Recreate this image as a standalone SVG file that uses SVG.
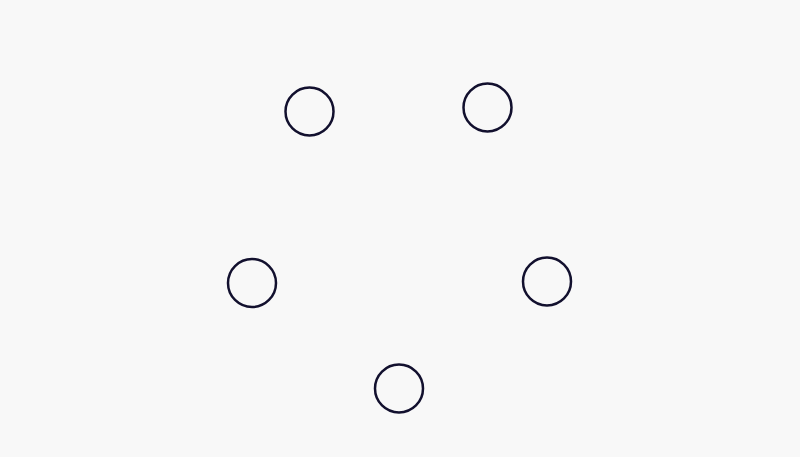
<svg xmlns="http://www.w3.org/2000/svg" width="800" height="457" viewBox="0 0 800 457">
<style>
.node{fill:none;stroke:#12102e;stroke-width:2.5}
</style>
<rect width="800" height="457" fill="#f8f8f8"/>
<g id="connectors"/>
<g id="n1"><circle class="node" cx="309.5" cy="111.5" r="24"/></g>
<g id="n2"><circle class="node" cx="487.5" cy="107.5" r="24"/></g>
<g id="n3"><circle class="node" cx="252" cy="283" r="24"/></g>
<g id="n4"><circle class="node" cx="547" cy="281.5" r="24"/></g>
<g id="n5"><circle class="node" cx="399" cy="388.5" r="24"/></g>
</svg>
